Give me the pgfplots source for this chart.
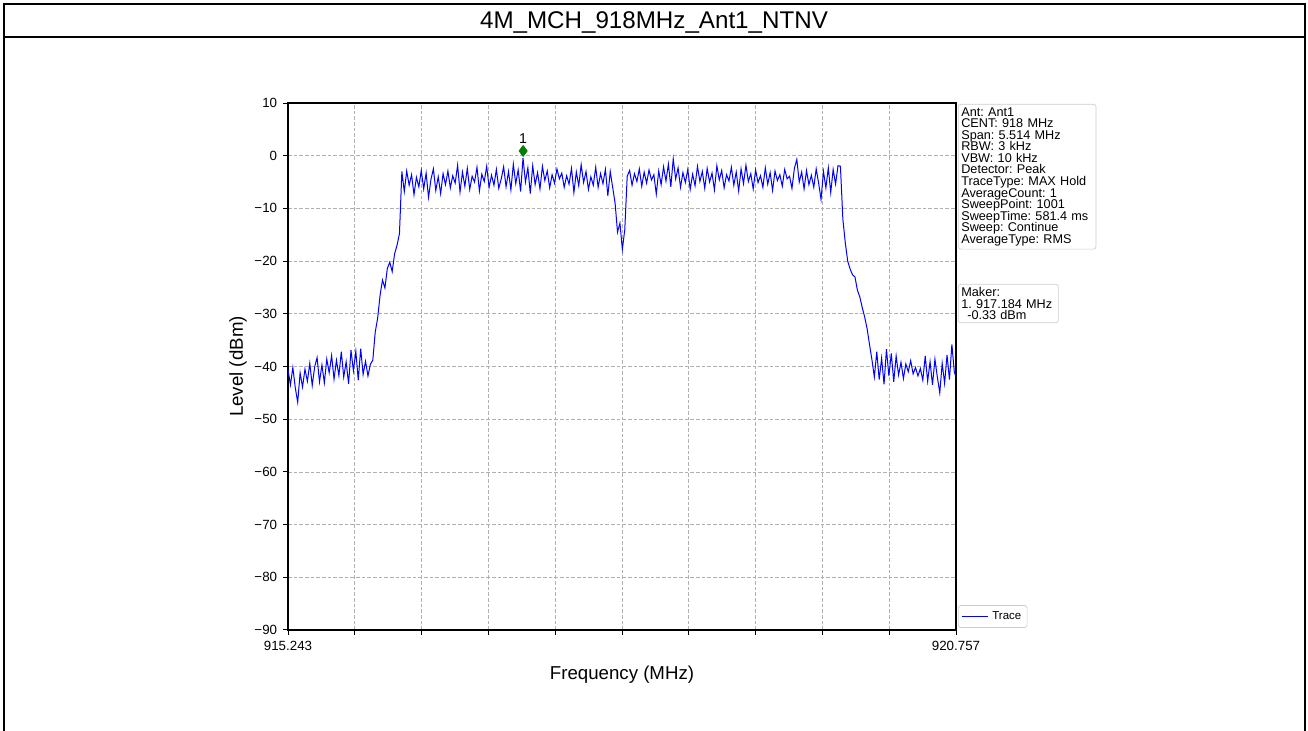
\documentclass[border=0pt]{standalone}
\usepackage{fontspec}
\setmainfont{Liberation Sans}
\usepackage{pgfplots}
\pgfplotsset{compat=1.18}
\definecolor{gridgray}{HTML}{B0B0B0}
\definecolor{boxgray}{HTML}{CCCCCC}
\definecolor{mkgreen}{HTML}{008000}
\frenchspacing

\begin{document}
\begin{tikzpicture}
\path[use as bounding box] (0,0) rectangle (784.8pt,438.6pt);
% outer frame and title band
\draw[line width=1.2pt] (2.1pt,0) -- (2.1pt,435.9pt) -- (782.7pt,435.9pt) -- (782.7pt,0);
\draw[line width=1.2pt] (2.1pt,416.1pt) -- (782.7pt,416.1pt);
\node[font=\fontsize{14.5}{17}\selectfont] at (392.4pt,425.4pt) {4M\_MCH\_918MHz\_Ant1\_NTNV};

\begin{axis}[
  at={(172.8pt,60.6pt)}, anchor=south west,
  scale only axis, width=400.8pt, height=316.2pt,
  xmin=915.243, xmax=920.757, ymin=-90, ymax=10,
  xtick={915.243,915.7944,916.3458,916.8972,917.4486,918.0,918.5514,919.1028,919.6542,920.2056,920.757},
  xticklabels={915.243,,,,,,,,,,920.757},
  ytick={-90,-80,-70,-60,-50,-40,-30,-20,-10,0,10},
  yticklabels={−90,−80,−70,−60,−50,−40,−30,−20,−10,0,10},
  tick align=outside, major tick length=3pt,
  xtick pos=left, ytick pos=left,
  grid=major,
  grid style={gridgray, dash pattern=on 2.2pt off 1.2pt, line width=0.4pt},
  axis line style={line width=0.7pt},
  tick style={black, line width=0.6pt},
  ticklabel style={font=\fontsize{8}{9.6}\selectfont},
  xlabel={Frequency (MHz)}, ylabel={Level (dBm)},
  label style={font=\fontsize{11.2}{13.4}\selectfont},
  xlabel style={at={(axis description cs:0.5,-0.0854)}, anchor=center},
  ylabel style={at={(axis description cs:-0.0749,0.5)}, anchor=center},
  legend style={at={(1.003,0.004)}, anchor=south west, draw=boxgray,
    rounded corners=1.5pt, font=\fontsize{6.9}{7.8}\selectfont, inner sep=1.5pt},
  legend image code/.code={\draw[blue, line width=0.9pt] (0pt,0pt) -- (16pt,0pt);},
]
\addplot[blue, line width=0.6pt] coordinates {
(915.243,-40.6)(915.263,-43.5)(915.283,-40.2)(915.303,-44.0)(915.323,-46.8)(915.343,-41.2)(915.363,-43.9)(915.383,-40.5)(915.403,-42.8)(915.423,-39.4)
(915.443,-43.6)(915.463,-40.1)(915.483,-38.3)(915.503,-42.9)(915.523,-39.7)(915.543,-43.1)(915.563,-38.6)(915.583,-41.2)(915.603,-37.9)(915.623,-42.4)
(915.643,-38.8)(915.663,-41.7)(915.683,-37.2)(915.703,-42.0)(915.723,-39.1)(915.743,-43.3)(915.763,-36.9)(915.783,-40.8)(915.803,-37.1)(915.823,-42.6)
(915.843,-36.6)(915.863,-41.5)(915.883,-39.0)(915.903,-41.8)(915.923,-39.6)
(915.943,-38.8)(915.963,-33.5)(915.983,-30.8)(916.003,-26.5)(916.023,-23.6)
(916.043,-25.1)(916.063,-21.4)(916.083,-20.2)(916.103,-22.0)(916.123,-18.6)(916.143,-17.0)(916.163,-14.8)
(916.183,-3.0)(916.203,-6.8)(916.223,-2.9)
(916.243,-5.6)(916.263,-3.6)(916.283,-7.4)(916.303,-4.1)(916.323,-5.9)(916.343,-2.8)(916.363,-6.3)(916.383,-3.3)(916.403,-7.9)(916.423,-4.5)
(916.443,-2.5)(916.463,-6.6)(916.483,-4.0)(916.503,-7.2)(916.523,-3.4)(916.543,-5.5)(916.563,-2.9)(916.583,-6.1)(916.603,-3.8)(916.623,-5.2)
(916.643,-1.8)(916.663,-6.9)(916.683,-3.1)(916.703,-5.8)(916.723,-2.4)(916.743,-6.4)(916.763,-3.9)(916.783,-5.0)(916.803,-2.2)(916.823,-6.7)
(916.843,-3.5)(916.863,-4.9)(916.883,-2.0)(916.903,-6.0)(916.923,-3.7)(916.943,-5.6)(916.963,-2.6)(916.983,-6.2)(917.003,-4.4)(917.023,-2.1)
(917.043,-5.9)(917.063,-3.0)(917.083,-6.5)(917.103,-1.6)(917.123,-5.3)(917.143,-2.7)(917.163,-6.8)(917.183,-0.4)(917.203,-5.0)(917.223,-2.3)
(917.243,-7.2)(917.263,-1.9)(917.283,-5.5)(917.303,-3.2)(917.323,-6.3)(917.343,-2.0)(917.363,-4.7)(917.383,-2.9)(917.403,-6.1)(917.423,-3.6)
(917.443,-5.2)(917.463,-2.5)(917.483,-4.4)(917.503,-3.3)(917.523,-6.0)(917.543,-3.8)(917.563,-5.4)(917.583,-2.4)(917.603,-7.0)(917.623,-3.1)
(917.643,-5.7)(917.663,-1.7)(917.683,-5.1)(917.703,-3.0)(917.723,-6.4)(917.743,-4.0)(917.763,-5.6)(917.783,-2.2)(917.803,-6.0)(917.823,-3.4)
(917.843,-5.3)(917.863,-2.6)(917.883,-7.6)(917.903,-3.0)(917.923,-6.0)
(917.943,-9.0)(917.963,-14.5)(917.983,-12.8)(918.003,-17.8)(918.023,-14.0)
(918.043,-3.9)(918.063,-2.8)(918.083,-5.6)(918.103,-3.4)(918.123,-4.9)(918.143,-2.5)(918.163,-5.8)(918.183,-3.1)(918.203,-5.2)(918.223,-2.7)
(918.243,-4.6)(918.263,-3.6)(918.283,-7.3)(918.303,-2.9)(918.323,-5.5)(918.343,-2.1)(918.363,-4.8)(918.383,-1.6)(918.403,-5.9)(918.423,-0.6)
(918.443,-4.4)(918.463,-2.3)(918.483,-6.0)(918.503,-3.2)(918.523,-5.1)(918.543,-2.6)(918.563,-6.4)(918.583,-3.5)(918.603,-5.7)(918.623,-2.0)
(918.643,-4.9)(918.663,-3.0)(918.683,-6.2)(918.703,-2.4)(918.723,-5.0)(918.743,-3.3)(918.763,-6.5)(918.783,-1.9)(918.803,-4.6)(918.823,-2.8)
(918.843,-6.1)(918.863,-3.6)(918.883,-4.8)(918.903,-2.2)(918.923,-5.6)(918.943,-3.1)(918.963,-6.7)(918.983,-2.5)(919.003,-5.3)(919.023,-1.8)
(919.043,-4.9)(919.063,-3.4)(919.083,-6.3)(919.103,-2.7)(919.123,-5.1)(919.143,-3.8)(919.163,-6.0)(919.183,-2.3)(919.203,-5.4)(919.223,-3.2)
(919.243,-6.6)(919.263,-2.9)(919.283,-4.7)(919.303,-3.6)(919.323,-5.8)(919.343,-2.6)(919.363,-4.4)(919.383,-3.9)(919.403,-6.2)(919.423,-2.4)
(919.443,-0.7)(919.463,-5.0)(919.483,-3.1)(919.503,-6.3)(919.523,-2.8)(919.543,-5.5)(919.563,-3.7)(919.583,-6.0)(919.603,-2.5)(919.623,-5.2)
(919.643,-8.3)(919.663,-3.0)(919.683,-6.1)(919.703,-2.3)(919.723,-7.0)(919.743,-2.6)(919.763,-5.4)(919.783,-1.9)(919.803,-2.0)
(919.823,-12.0)(919.843,-16.5)(919.863,-20.0)(919.883,-21.5)(919.903,-22.6)(919.923,-23.0)(919.943,-25.5)(919.963,-26.8)(919.983,-28.8)(920.003,-30.6)
(920.023,-32.8)(920.043,-35.8)(920.063,-38.7)(920.083,-42.0)
(920.103,-37.2)(920.123,-42.5)(920.143,-38.4)(920.163,-43.4)(920.183,-36.7)(920.203,-41.8)(920.223,-37.5)
(920.243,-42.9)(920.263,-38.0)(920.283,-41.6)(920.303,-39.2)(920.323,-42.3)(920.343,-39.5)(920.363,-41.0)(920.383,-38.9)(920.403,-41.4)(920.423,-40.2)
(920.443,-41.8)(920.463,-40.4)(920.483,-42.6)(920.503,-38.0)(920.523,-42.8)(920.543,-39.1)(920.563,-43.5)(920.583,-38.6)(920.603,-42.0)(920.623,-45.0)
(920.643,-39.4)(920.663,-43.2)(920.683,-37.8)(920.703,-42.5)(920.723,-35.8)(920.743,-41.0)(920.757,-42.0)
};
\addlegendentry{Trace}
% marker 1
\addplot[only marks, mark=diamond*, mark size=3.3pt, color=mkgreen, forget plot,
  nodes near coords={1},
  every node near coord/.append style={black, font=\fontsize{8.5}{10}\selectfont, anchor=south, yshift=1pt}]
  coordinates {(917.184,0.9)};
\end{axis}

% info boxes
\tikzset{infobox/.style={draw=boxgray, rounded corners=1.5pt, anchor=north west,
  inner sep=1.8pt, align=left, font=\fontsize{7.6}{6.95}\selectfont,
  execute at begin node={\lineskiplimit=-10pt\lineskip=0pt}}}
\node[infobox, text width=79pt]
  at (574.8pt,376.2pt) {Ant: Ant1\\CENT: 918 MHz\\Span: 5.514 MHz\\RBW: 3 kHz\\VBW: 10 kHz\\Detector: Peak\\TraceType: MAX Hold\\AverageCount: 1\\SweepPoint: 1001\\SweepTime: 581.4 ms\\Sweep: Continue\\AverageType: RMS};
\node[infobox, text width=56.4pt]
  at (574.8pt,268.2pt) {Maker:\\1. 917.184 MHz\\\hspace*{3.6pt}-0.33 dBm};
\end{tikzpicture}
\end{document}
